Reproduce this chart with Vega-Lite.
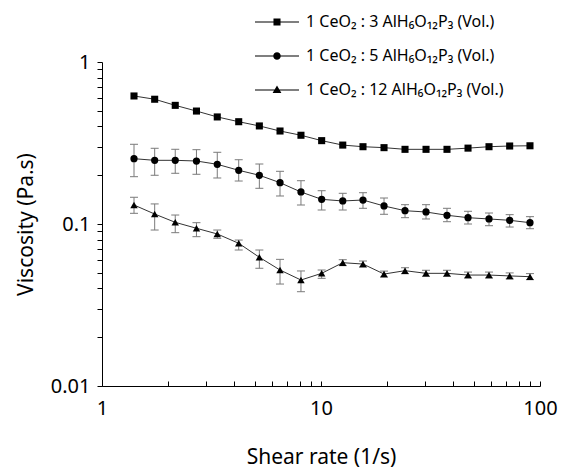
{
  "$schema": "https://vega.github.io/schema/vega-lite/v6.json",
  "width": 438,
  "height": 324,
  "autosize": {"type": "none"},
  "padding": {"left": 102, "top": 62, "right": 21, "bottom": 82},
  "background": "white",
  "config": {
    "view": {"stroke": null},
    "font": "Noto Sans",
    "axis": {
      "grid": false,
      "ticks": true,
      "zindex": 2,
      "domainColor": "#000000",
      "domainWidth": 1,
      "tickColor": "#000000",
      "tickWidth": 1,
      "tickOpacity": 1,
      "labelColor": "#000000",
      "labelFont": "Noto Sans",
      "labelFontSize": 20,
      "titleFont": "Noto Sans",
      "titleFontSize": 21,
      "titleFontWeight": "normal",
      "titleColor": "#000000",
      "labelFlush": false,
      "labelOverlap": false
    }
  },
  "data": {
    "values": [
      {"s": "3", "x": 1.40, "y": 0.617},
      {"s": "3", "x": 1.74, "y": 0.589},
      {"s": "3", "x": 2.16, "y": 0.540},
      {"s": "3", "x": 2.70, "y": 0.498},
      {"s": "3", "x": 3.36, "y": 0.458},
      {"s": "3", "x": 4.21, "y": 0.428},
      {"s": "3", "x": 5.23, "y": 0.403},
      {"s": "3", "x": 6.50, "y": 0.375},
      {"s": "3", "x": 8.10, "y": 0.353},
      {"s": "3", "x": 10.07, "y": 0.327},
      {"s": "3", "x": 12.57, "y": 0.307},
      {"s": "3", "x": 15.55, "y": 0.300},
      {"s": "3", "x": 19.40, "y": 0.296},
      {"s": "3", "x": 24.19, "y": 0.289},
      {"s": "3", "x": 30.17, "y": 0.289},
      {"s": "3", "x": 37.61, "y": 0.289},
      {"s": "3", "x": 46.92, "y": 0.294},
      {"s": "3", "x": 58.50, "y": 0.300},
      {"s": "3", "x": 72.70, "y": 0.303},
      {"s": "3", "x": 90.00, "y": 0.304},
      {"s": "5", "x": 1.40, "y": 0.2530, "lo": 0.1959, "hi": 0.3105},
      {"s": "5", "x": 1.74, "y": 0.2472, "lo": 0.1999, "hi": 0.2933},
      {"s": "5", "x": 2.16, "y": 0.2472, "lo": 0.2056, "hi": 0.2892},
      {"s": "5", "x": 2.70, "y": 0.2448, "lo": 0.2027, "hi": 0.2876},
      {"s": "5", "x": 3.36, "y": 0.2336, "lo": 0.1923, "hi": 0.2771},
      {"s": "5", "x": 4.21, "y": 0.2145, "lo": 0.1842, "hi": 0.2493},
      {"s": "5", "x": 5.23, "y": 0.1999, "lo": 0.1661, "hi": 0.2346},
      {"s": "5", "x": 6.50, "y": 0.1799, "lo": 0.1489, "hi": 0.2115},
      {"s": "5", "x": 8.10, "y": 0.1576, "lo": 0.1310, "hi": 0.1850},
      {"s": "5", "x": 10.07, "y": 0.1420, "lo": 0.1220, "hi": 0.1605},
      {"s": "5", "x": 12.57, "y": 0.1387, "lo": 0.1220, "hi": 0.1547},
      {"s": "5", "x": 15.55, "y": 0.1406, "lo": 0.1250, "hi": 0.1560},
      {"s": "5", "x": 19.40, "y": 0.1292, "lo": 0.1148, "hi": 0.1447},
      {"s": "5", "x": 24.19, "y": 0.1208, "lo": 0.1094, "hi": 0.1316},
      {"s": "5", "x": 30.17, "y": 0.1186, "lo": 0.1074, "hi": 0.1316},
      {"s": "5", "x": 37.61, "y": 0.1132, "lo": 0.1033, "hi": 0.1250},
      {"s": "5", "x": 46.92, "y": 0.1094, "lo": 0.1000, "hi": 0.1198},
      {"s": "5", "x": 58.50, "y": 0.1074, "lo": 0.0976, "hi": 0.1169},
      {"s": "5", "x": 72.70, "y": 0.1054, "lo": 0.0958, "hi": 0.1142},
      {"s": "5", "x": 90.00, "y": 0.1019, "lo": 0.0935, "hi": 0.1110},
      {"s": "12", "x": 1.40, "y": 0.1310, "lo": 0.1164, "hi": 0.1462},
      {"s": "12", "x": 1.74, "y": 0.1152, "lo": 0.0918, "hi": 0.1330},
      {"s": "12", "x": 2.16, "y": 0.1024, "lo": 0.0884, "hi": 0.1136},
      {"s": "12", "x": 2.70, "y": 0.0941, "lo": 0.0835, "hi": 0.1019},
      {"s": "12", "x": 3.36, "y": 0.0868, "lo": 0.0816, "hi": 0.0918},
      {"s": "12", "x": 4.21, "y": 0.0760, "lo": 0.0691, "hi": 0.0796},
      {"s": "12", "x": 5.23, "y": 0.0623, "lo": 0.0533, "hi": 0.0691},
      {"s": "12", "x": 6.50, "y": 0.0520, "lo": 0.0426, "hi": 0.0605},
      {"s": "12", "x": 8.10, "y": 0.0451, "lo": 0.0382, "hi": 0.0513},
      {"s": "12", "x": 10.07, "y": 0.0496, "lo": 0.0462, "hi": 0.0520},
      {"s": "12", "x": 12.57, "y": 0.0577, "lo": 0.0553, "hi": 0.0602},
      {"s": "12", "x": 15.55, "y": 0.0566, "lo": 0.0542, "hi": 0.0591},
      {"s": "12", "x": 19.40, "y": 0.0491, "lo": 0.0470, "hi": 0.0512},
      {"s": "12", "x": 24.19, "y": 0.0515, "lo": 0.0493, "hi": 0.0537},
      {"s": "12", "x": 30.17, "y": 0.0496, "lo": 0.0475, "hi": 0.0518},
      {"s": "12", "x": 37.61, "y": 0.0496, "lo": 0.0475, "hi": 0.0518},
      {"s": "12", "x": 46.92, "y": 0.0484, "lo": 0.0464, "hi": 0.0505},
      {"s": "12", "x": 58.50, "y": 0.0484, "lo": 0.0464, "hi": 0.0505},
      {"s": "12", "x": 72.70, "y": 0.0478, "lo": 0.0458, "hi": 0.0499},
      {"s": "12", "x": 90.00, "y": 0.0473, "lo": 0.0453, "hi": 0.0494}
    ]
  },
  "encoding": {
    "x": {
      "field": "x",
      "type": "quantitative",
      "scale": {"type": "log", "domain": [1, 100]},
      "axis": {
        "title": "Shear rate (1/s)",
        "values": [1, 2, 3, 4, 5, 6, 7, 8, 9, 10, 20, 30, 40, 50, 60, 70, 80, 90, 100],
        "labelExpr": "datum.value == 1 ? '1' : datum.value == 10 ? '10' : datum.value == 100 ? '100' : ''",
        "tickSize": -5,
        "zindex": 2,
        "labelPadding": 17,
        "titlePadding": 28
      }
    }
  },
  "layer": [
    {
      "mark": {"type": "line", "color": "#333333", "strokeWidth": 1},
      "encoding": {
        "y": {
          "field": "y",
          "type": "quantitative",
          "scale": {"type": "log", "domain": [0.01, 1]},
          "axis": {
            "title": "Viscosity (Pa.s)",
            "tickCount": 20,
            "tickSize": 5,
            "zindex": 2,
            "labelExpr": "datum.value == 1 ? '1' : datum.value == 0.1 ? '0.1' : datum.value == 0.01 ? '0.01' : ''",
            "labelPadding": 7,
            "titlePadding": 14
          }
        },
        "detail": {"field": "s"}
      }
    },
    {
      "transform": [{"filter": "isValid(datum.lo)"}],
      "mark": {"type": "rule", "color": "#7a7a7a", "strokeWidth": 1},
      "encoding": {
        "y": {"field": "lo", "type": "quantitative", "scale": {"type": "log", "domain": [0.01, 1]}, "axis": null},
        "y2": {"field": "hi"}
      }
    },
    {
      "transform": [{"filter": "isValid(datum.lo)"}],
      "mark": {"type": "point", "shape": "M-1,0H1", "filled": false, "stroke": "#7a7a7a", "strokeWidth": 1, "size": 64, "opacity": 1},
      "encoding": {
        "y": {"field": "lo", "type": "quantitative", "scale": {"type": "log", "domain": [0.01, 1]}, "axis": null}
      }
    },
    {
      "transform": [{"filter": "isValid(datum.hi)"}],
      "mark": {"type": "point", "shape": "M-1,0H1", "filled": false, "stroke": "#7a7a7a", "strokeWidth": 1, "size": 64, "opacity": 1},
      "encoding": {
        "y": {"field": "hi", "type": "quantitative", "scale": {"type": "log", "domain": [0.01, 1]}, "axis": null}
      }
    },
    {
      "mark": {"type": "point", "filled": true, "color": "#000000", "opacity": 1},
      "encoding": {
        "y": {"field": "y", "type": "quantitative", "scale": {"type": "log", "domain": [0.01, 1]}, "axis": null},
        "shape": {"field": "s", "type": "nominal", "scale": {"domain": ["3", "5", "12"], "range": ["square", "circle", "triangle-up"]}, "legend": null},
        "size": {"field": "s", "type": "nominal", "scale": {"domain": ["3", "5", "12"], "range": [50, 55, 75]}, "legend": null}
      }
    },
    {
      "transform": [{"filter": "false"}],
      "mark": {"type": "point", "filled": true, "color": "#000000", "opacity": 1},
      "encoding": {
        "y": {"field": "y", "type": "quantitative", "scale": {"type": "log", "domain": [0.01, 1]}, "axis": null},
        "shape": {
          "field": "s",
          "type": "nominal",
          "scale": {
            "domain": ["3", "5", "12"],
            "range": [
              "M-1,-0.022H1V0.022H-1ZM-0.16,-0.16H0.16V0.16H-0.16Z",
              "M-1,-0.022H1V0.022H-1ZM0.17,0A0.17,0.17,0,1,1,-0.17,0A0.17,0.17,0,1,1,0.17,0Z",
              "M-1,-0.022H1V0.022H-1ZM0,-0.2L0.2,0.14L-0.2,0.14Z"
            ]
          },
          "legend": {
            "orient": "none",
            "legendX": 152,
            "legendY": -63,
            "title": null,
            "symbolSize": 1936,
            "symbolOpacity": 1,
            "labelFont": "Noto Sans",
            "labelFontSize": 16,
            "labelColor": "#000000",
            "labelLimit": 0,
            "labelOffset": 6,
            "rowPadding": 3,
            "labelExpr": "'1 CeO₂ : ' + datum.label + ' AlH₆O₁₂P₃ (Vol.)'"
          }
        }
      }
    }
  ],
  "resolve": {"scale": {"shape": "independent"}, "legend": {"shape": "independent"}, "axis": {"y": "independent"}}
}
